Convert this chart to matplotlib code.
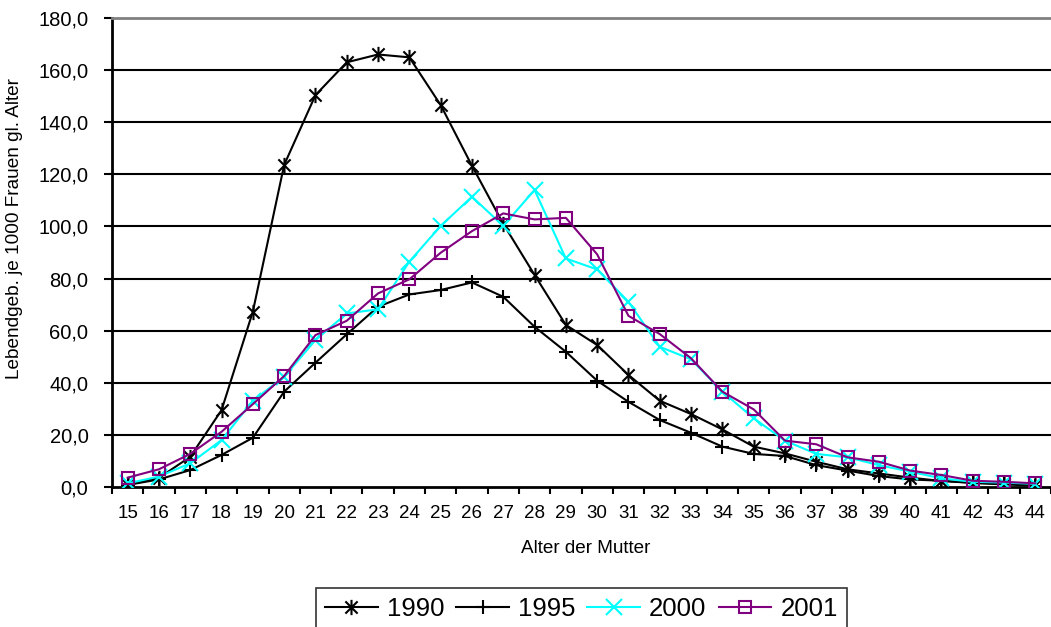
"""
Altersspezifische Geburtenziffern: Lebendgeborene je 1000 Frauen nach Alter der Mutter.
"""

import matplotlib
matplotlib.use("Agg")
import matplotlib.pyplot as plt
from matplotlib.path import Path
from matplotlib.ticker import FuncFormatter, FixedLocator

plt.rcParams["font.family"] = ["Liberation Sans", "DejaVu Sans"]

ages = list(range(15, 45))

rate_1990 = [0.8, 3.5, 11.6, 29.5, 67.3, 123.6, 150.4, 163.0, 166.0, 164.9,
             146.6, 123.3, 101.0, 81.4, 62.2, 54.5, 43.0, 33.1, 28.0, 22.1,
             15.5, 12.9, 9.7, 6.8, 5.2, 3.6, 2.3, 1.7, 1.3, 0.8]
rate_1995 = [0.8, 2.9, 6.5, 12.3, 18.9, 36.6, 47.7, 58.6, 69.2, 73.9,
             75.6, 78.5, 73.0, 61.5, 51.9, 40.8, 32.7, 25.7, 20.8, 15.5,
             12.7, 11.9, 8.4, 6.3, 4.2, 2.9, 2.4, 1.5, 1.0, 0.5]
rate_2000 = [1.4, 4.0, 9.1, 18.0, 33.1, 42.3, 56.4, 66.6, 68.2, 86.5,
             100.2, 111.4, 100.2, 114.0, 87.7, 83.5, 71.1, 53.8, 49.0, 36.6,
             26.4, 17.8, 12.7, 11.4, 8.4, 5.9, 3.3, 2.0, 1.7, 1.2]
rate_2001 = [3.6, 6.8, 12.7, 21.2, 31.8, 42.6, 58.3, 63.8, 74.3, 79.7,
             89.9, 98.2, 105.0, 102.7, 103.3, 89.3, 65.7, 58.7, 49.4, 36.6,
             29.8, 17.8, 16.4, 11.4, 9.7, 6.3, 4.6, 2.4, 2.0, 1.4]

series = [
    ("1990", rate_1990),
    ("1995", rate_1995),
    ("2000", rate_2000),
    ("2001", rate_2001),
]

# Excel-style asterisk: an X with a vertical bar through it
asterisk = Path(
    [(-1, -1), (1, 1), (-1, 1), (1, -1), (0, -1.25), (0, 1.25)],
    [Path.MOVETO, Path.LINETO] * 3,
)

styles = {
    "1990": dict(color="black", marker=asterisk, markersize=11, mew=1.5),
    "1995": dict(color="black", marker="+", markersize=10, mew=1.5),
    "2000": dict(color="#00ffff", marker="x", markersize=12, mew=1.5),
    "2001": dict(color="#800080", marker="s", markersize=8.5, mew=1.5,
                 markerfacecolor="none"),
}

fig = plt.figure(figsize=(10.51, 6.27), dpi=100)
ax = fig.add_axes([112 / 1051, 1 - 487 / 627, 1 - 112 / 1051, 469 / 627])

x = list(range(len(ages)))
for name, vals in series:
    ax.plot(x, vals, lw=1.5, label=name, **styles[name], zorder=3)

ax.set_xlim(-0.5, len(ages) - 0.5)
ax.set_ylim(0, 180)

# category axis: ticks between categories, labels centred
ax.xaxis.set_major_locator(FixedLocator([i - 0.5 for i in range(len(ages) + 1)]))
ax.xaxis.set_minor_locator(FixedLocator(x))
ax.set_xticklabels([])
ax.set_xticklabels([str(a) for a in ages], minor=True)
ax.tick_params(axis="x", which="major", length=5, width=1.5, direction="out")
ax.tick_params(axis="x", which="minor", length=0, labelsize=13.5, pad=13)

ax.set_yticks(range(0, 181, 20))
ax.yaxis.set_major_formatter(FuncFormatter(lambda v, _: f"{v:.1f}".replace(".", ",")))
ax.tick_params(axis="y", length=6, width=1.5, direction="out", labelsize=14.5, pad=11)

for v in range(20, 180, 20):
    ax.axhline(v, color="black", lw=1.5, zorder=1)

ax.spines["right"].set_visible(False)
ax.spines["top"].set_color("#808080")
ax.spines["top"].set_linewidth(2)
ax.spines["left"].set_linewidth(2)
ax.spines["bottom"].set_linewidth(2)

ax.set_xlabel("Alter der Mutter", fontsize=13.6)
ax.xaxis.set_label_coords(0.504, -0.113)
ax.set_ylabel("Lebendgeb. je 1000 Frauen gl. Alter", fontsize=13.7)
ax.yaxis.set_label_coords(-0.095, 0.552)

leg = fig.legend(loc="upper left", bbox_to_anchor=(316 / 1051, 1 - 588 / 627),
                 ncol=4, fontsize=18.5, frameon=True, fancybox=False,
                 edgecolor="black", handlelength=2.05, handletextpad=0.35,
                 columnspacing=0.47, borderpad=0.35, borderaxespad=0)
leg.get_frame().set_linewidth(1.2)

fig.savefig("out.png", dpi=100)
plt.close()
